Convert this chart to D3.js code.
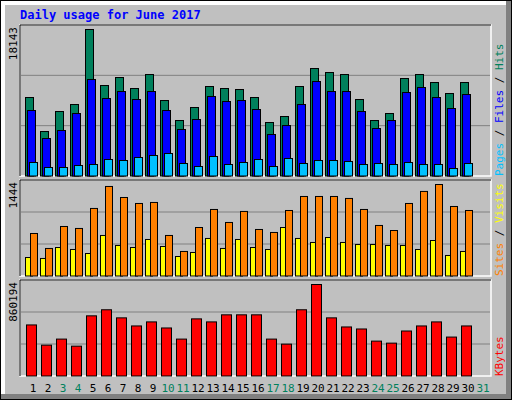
<!DOCTYPE html>
<html><head><meta charset="utf-8">
<script src="https://cdn.jsdelivr.net/npm/d3@7"></script>
<style>body{margin:0;background:#fff}svg{display:block}text{font-family:"DejaVu Sans Mono",monospace}</style>
</head><body><svg></svg>
<script>
var days = d3.range(1, 31);
var weekend = [3, 4, 10, 11, 17, 18, 24, 25, 31];
var hits = [9749,5553,8021,8885,18143,11229,12217,10859,12587,9378,6910,8515,11106,10859,10736,9749,6664,7404,11106,13327,12834,12587,9502,6910,7774,12093,12587,11600,10242,11600];
var files = [8144,4689,5676,7774,11970,9625,10489,9502,10489,8144,5800,7034,9872,9255,9378,8268,5183,6293,8885,11723,10489,10489,8021,5923,6910,10366,10983,9749,8391,10119];
var pages = [1728,1111,1111,1357,1481,2098,1974,2345,2591,2838,1604,1234,2468,1481,1728,2098,1234,2221,1604,1974,1974,1851,1481,1604,1481,1728,1481,1481,987,1604];
var visits = [675,440,785,754,1068,1413,1240,1146,1162,644,393,769,1052,848,1021,738,691,1036,1256,1256,1256,1225,1052,801,722,1146,1335,1444,1099,1036];
var sites = [298,283,455,424,361,644,487,455,581,471,314,377,597,440,581,455,424,769,597,534,612,534,502,502,487,487,424,565,330,393];
var kbytes = [482103,293043,349761,283590,567180,623898,548274,472650,510462,453744,349761,538821,510462,576633,576633,576633,349761,302496,623898,860194,548274,463197,444291,330855,311949,425385,472650,510462,368667,472650];

var width = 512, height = 400;
var svg = d3.select('svg').attr('width', width).attr('height', height);

// frame
svg.append('rect').attr('x', 0).attr('y', 0).attr('width', 512).attr('height', 400).attr('fill', '#000');
svg.append('rect').attr('x', 1).attr('y', 1).attr('width', 510).attr('height', 398).attr('fill', '#808080');
svg.append('rect').attr('x', 1).attr('y', 1).attr('width', 505).attr('height', 393).attr('fill', '#fff');
svg.append('rect').attr('x', 5).attr('y', 5).attr('width', 501).attr('height', 389).attr('fill', '#c0c0c0');

svg.append('text').attr('x', 20).attr('y', 19).attr('fill', '#0000ff')
  .attr('font-size', 12).attr('font-weight', 'bold').text('Daily usage for June 2017');

var x = d3.scaleLinear().domain([1, 31]).range([25, 475]);

var panels = [
  {top: 25, bottom: 176, max: 18143, series: [[hits, '#00805c', 0], [files, '#0000ff', 2], [pages, '#00c0ff', 4]],
   labels: [['Pages', '#00c0ff'], [' / ', '#000'], ['Files', '#0000ff'], [' / ', '#000'], ['Hits', '#00805c']], bw: 8},
  {top: 180, bottom: 276, max: 1444, series: [[sites, '#ffff00', 0], [visits, '#ff8000', 5]],
   labels: [['Sites', '#ff8000'], [' / ', '#000'], ['Visits', '#ffff00']], bw: 7},
  {top: 280, bottom: 376, max: 860194, series: [[kbytes, '#ff0000', 1]],
   labels: [['KBytes', '#ff0000']], bw: 10}
];

panels.forEach(function(p) {
  var y = d3.scaleLinear().domain([0, p.max]).range([p.bottom, p.top + 4]);
  var h = p.bottom - p.top;
  svg.append('rect').attr('x', 20).attr('y', p.top).attr('width', 471).attr('height', h)
    .attr('fill', 'none').attr('stroke', '#fff').attr('stroke-width', 1.5);
  svg.append('line').attr('x1', 20).attr('x2', 20).attr('y1', p.top).attr('y2', p.bottom).attr('stroke', '#000');
  svg.append('line').attr('x1', 20).attr('x2', 491).attr('y1', p.top).attr('y2', p.top).attr('stroke', '#000');
  [1, 2].forEach(function(k) {
    svg.append('line').attr('x1', 21).attr('x2', 490)
      .attr('y1', p.bottom - h * k / 3).attr('y2', p.bottom - h * k / 3).attr('stroke', '#808080');
  });
  p.series.forEach(function(s) {
    svg.append('g').selectAll('rect').data(s[0]).join('rect')
      .attr('x', (d, i) => x(days[i]) + s[2] + 0.5)
      .attr('y', d => y(d) + 0.5)
      .attr('width', p.bw)
      .attr('height', d => p.bottom - y(d) - 0.5)
      .attr('fill', s[1]).attr('stroke', '#000');
  });
  svg.append('text').attr('transform', 'translate(17,' + (p.top + 2) + ') rotate(-90)')
    .attr('text-anchor', 'end').attr('font-size', 11).text(p.max);
  var t = svg.append('text').attr('transform', 'translate(503,' + (p.bottom) + ') rotate(-90)')
    .attr('font-size', 11);
  p.labels.forEach(l => t.append('tspan').attr('fill', l[1]).text(l[0]));
});

svg.append('g').selectAll('text').data(d3.range(1, 32)).join('text')
  .attr('x', d => x(d) + 8).attr('y', 392).attr('text-anchor', 'middle')
  .attr('font-size', 11)
  .attr('fill', d => weekend.includes(d) ? '#00805c' : '#000')
  .text(d => d);
</script></body></html>
